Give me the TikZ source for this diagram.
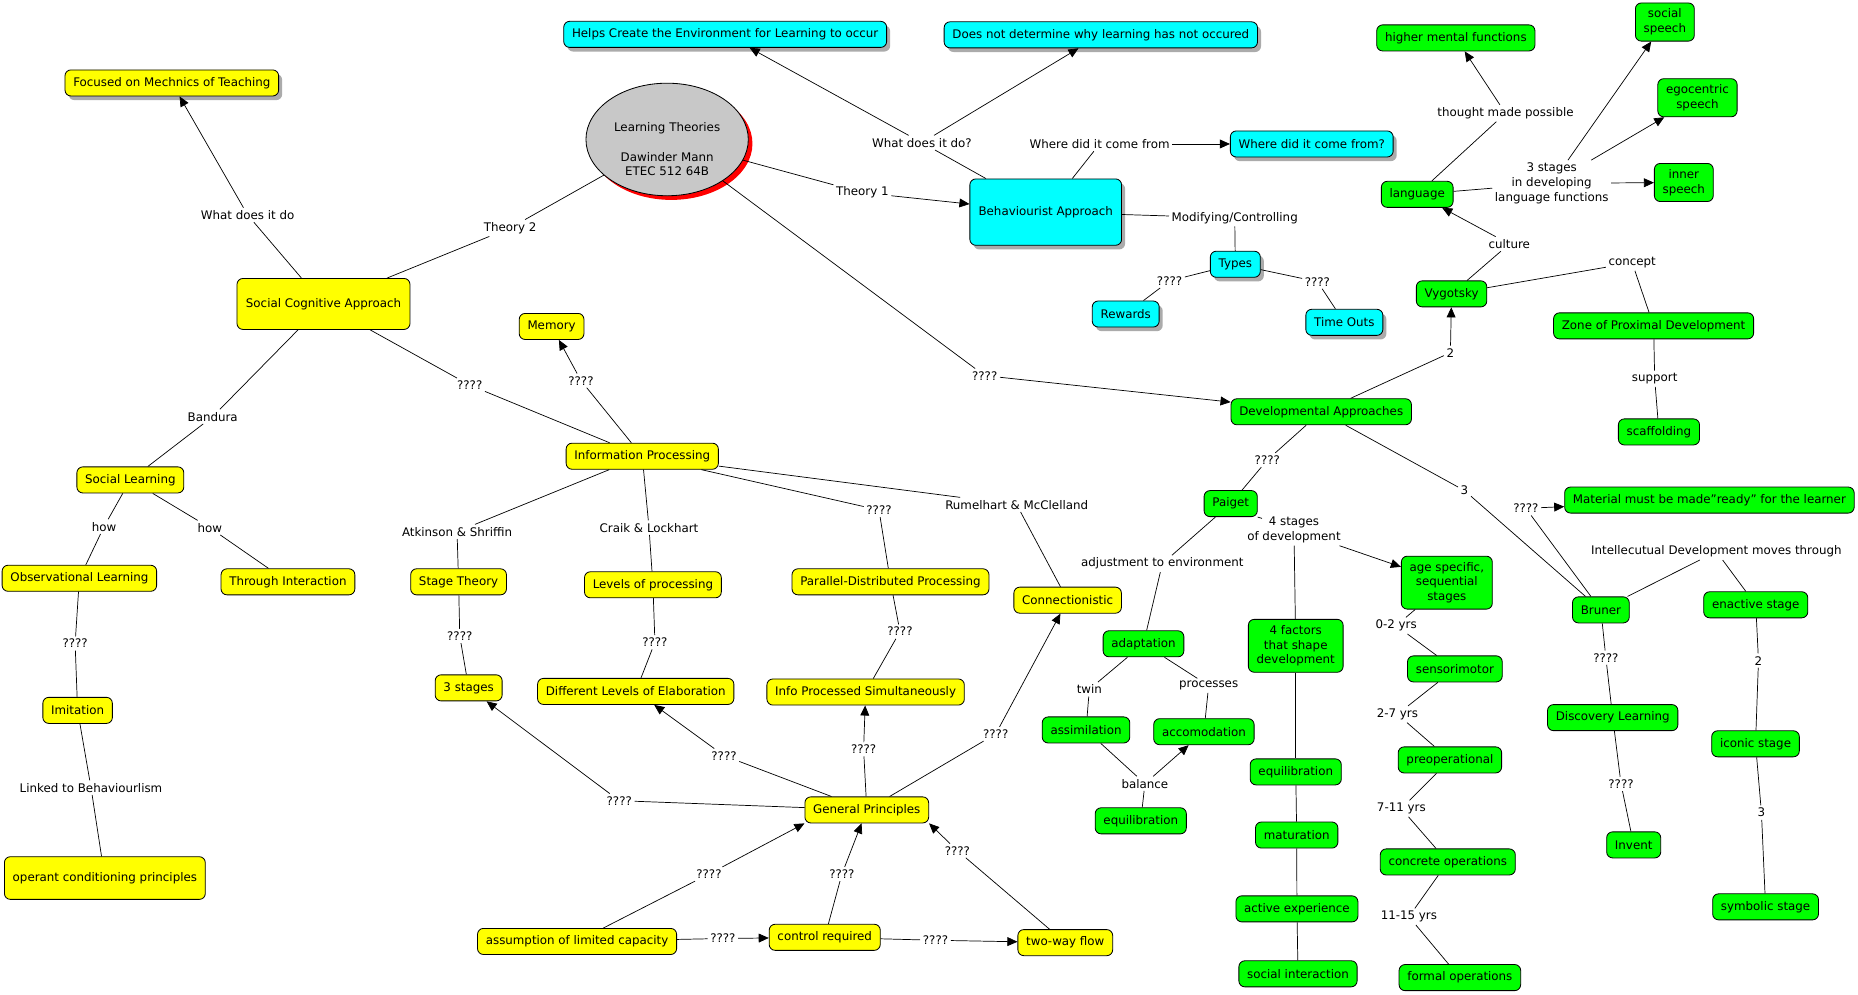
\documentclass[tikz,border=0pt]{standalone}
\usepackage{fontspec}
\setmainfont{DejaVu Sans}
\usetikzlibrary{shapes.geometric,arrows.meta,shadows}
\definecolor{cmyel}{RGB}{255,255,0}
\definecolor{cmcyan}{RGB}{0,255,255}
\definecolor{cmgreen}{RGB}{0,255,0}
\definecolor{cmgray}{RGB}{200,200,200}
\definecolor{cmred}{RGB}{255,0,0}
\definecolor{cmshadow}{RGB}{150,150,150}
\begin{document}
\begin{tikzpicture}[x=1pt,y=-1pt,
  base/.style={draw=black, line width=0.7pt, rounded corners=5pt, inner xsep=7pt, inner ysep=5pt,
    minimum height=22pt, align=center, font=\fontsize{10}{12.5}\selectfont},
  ynode/.style={base, fill=cmyel},
  cnode/.style={base, fill=cmcyan, drop shadow={shadow xshift=3pt, shadow yshift=-3.5pt, fill=cmshadow, opacity=0.8}},
  ysh/.style={drop shadow={shadow xshift=3pt, shadow yshift=-3.5pt, fill=cmshadow, opacity=0.8}},
  gnode/.style={base, fill=cmgreen},
  lbl/.style={inner sep=2pt, align=center, font=\fontsize{10}{12.5}\selectfont},
  arr/.style={-{Triangle[length=8.5pt,width=7.5pt]}},
  every path/.style={line width=0.6pt}]
\fill[white] (0,0) rectangle (1568,839);
\useasboundingbox (0,0) rectangle (1568,839);

% central ellipse
\node[ellipse, draw=black, line width=0.7pt, fill=cmgray, minimum width=137pt, minimum height=95pt, inner sep=0pt,
  drop shadow={shadow xshift=3.5pt, shadow yshift=-3.5pt, fill=cmred, opacity=1}] (lt) at (563,117.7) {};
\node[lbl] (ltt) at (563,126) {Learning Theories\\[12.5pt]Dawinder Mann\\ETEC 512 64B};

% yellow
\node[ynode, ysh] (foc) at (145,70) {Focused on Mechnics of Teaching};
\node[ynode, minimum width=146pt, minimum height=43pt] (sca) at (273,256.5) {Social Cognitive Approach};
\node[ynode] (mem) at (465.5,275.5) {Memory};
\node[ynode] (ip) at (542,385) {Information Processing};
\node[ynode] (sl) at (110,405) {Social Learning};
\node[ynode] (obs) at (67,488) {Observational Learning};
\node[ynode] (thr) at (243,491) {Through Interaction};
\node[ynode] (st) at (387,491) {Stage Theory};
\node[ynode] (lev) at (551,493.5) {Levels of processing};
\node[ynode] (pdp) at (751.5,491) {Parallel-Distributed Processing};
\node[ynode] (con) at (901,506.5) {Connectionistic};
\node[ynode] (thr3) at (395.5,580.5) {3 stages};
\node[ynode] (dle) at (536.5,583.5) {Different Levels of Elaboration};
\node[ynode] (ips) at (730.5,584) {Info Processed Simultaneously};
\node[ynode] (gp) at (731.5,683.5) {General Principles};
\node[ynode] (imi) at (65.5,599.5) {Imitation};
\node[ynode, minimum height=36pt] (opc) at (88.5,741) {operant conditioning principles};
\node[ynode] (alc) at (487,794.5) {assumption of limited capacity};
\node[ynode] (ctl) at (696,791) {control required};
\node[ynode] (twf) at (899,795.5) {two-way flow};

% cyan
\node[cnode] (hel) at (612,29) {Helps Create the Environment for Learning to occur};
\node[cnode] (dnd) at (929,29.4) {Does not determine why learning has not occured};
\node[cnode, minimum width=128pt, minimum height=56pt] (beh) at (882.5,179) {Behaviourist Approach};
\node[cnode] (wdc) at (1107,121.5) {Where did it come from?};
\node[cnode] (typ) at (1042.5,223) {Types};
\node[cnode] (rew) at (950,265) {Rewards};
\node[cnode] (tim) at (1134.5,272) {Time Outs};

% green
\node[gnode] (hmf) at (1228.6,32) {higher mental functions};
\node[gnode] (soc) at (1405,18.6) {social\\speech};
\node[gnode] (ego) at (1432.5,82.5) {egocentric\\speech};
\node[gnode] (inn) at (1421,154) {inner\\speech};
\node[gnode] (lan) at (1196,164) {language};
\node[gnode] (vyg) at (1225,248) {Vygotsky};
\node[gnode] (zpd) at (1395.5,275) {Zone of Proximal Development};
\node[gnode] (scf) at (1400,364.5) {scaffolding};
\node[gnode] (dev) at (1115,347.5) {Developmental Approaches};
\node[gnode] (pai) at (1038.6,425) {Paiget};
\node[gnode] (age) at (1221,491.7) {age specific,\\sequential\\stages};
\node[gnode] (bru) at (1351,514.7) {Bruner};
\node[gnode] (mat) at (1442.6,422) {Material must be made"ready" for the learner};
\node[gnode] (ena) at (1481.7,510.4) {enactive stage};
\node[gnode] (fac) at (1093.5,545) {4 factors\\that shape\\development};
\node[gnode] (ada) at (965,543.3) {adaptation};
\node[gnode] (asm) at (916.5,616) {assimilation};
\node[gnode] (acc) at (1016,617.5) {accomodation};
\node[gnode] (eqa) at (962.7,692.7) {equilibration};
\node[gnode] (eqb) at (1093.5,651.4) {equilibration};
\node[gnode] (matu) at (1094.3,704.7) {maturation};
\node[gnode] (act) at (1094.5,767) {active experience};
\node[gnode] (sin) at (1095.4,821.8) {social interaction};
\node[gnode] (sen) at (1227.8,564.5) {sensorimotor};
\node[gnode] (pre) at (1223.6,641.3) {preoperational};
\node[gnode] (cop) at (1221.8,727.4) {concrete operations};
\node[gnode] (fop) at (1232,825) {formal operations};
\node[gnode] (dis) at (1361,605.6) {Discovery Learning};
\node[gnode] (inv) at (1378.7,713) {Invent};
\node[gnode] (ico) at (1481.5,627.7) {iconic stage};
\node[gnode] (sym) at (1490,765.3) {symbolic stage};

% linking phrases
\node[lbl] (l1) at (209,181.4) {What does it do};
\node[lbl] (l2) at (430.5,192.4) {Theory 2};
\node[lbl] (l3) at (727.8,162.6) {Theory 1};
\node[lbl] (l4) at (831,317) {????};
\node[lbl] (l5) at (778,120.4) {What does it do?};
\node[lbl] (l6) at (928,121.5) {Where did it come from};
\node[lbl] (l7) at (1042,184) {Modifying/Controlling};
\node[lbl] (l8) at (987,237) {????};
\node[lbl] (l9) at (1111.8,237.7) {????};
\node[lbl] (l10) at (179.5,351.6) {Bandura};
\node[lbl] (l11) at (396.4,325) {????};
\node[lbl] (l12) at (87.8,444.4) {how};
\node[lbl] (l13) at (177,445.3) {how};
\node[lbl] (l14) at (63.4,543) {????};
\node[lbl] (l15) at (76.8,664.7) {Linked to Behaviourlism};
\node[lbl] (l16) at (490.3,321.2) {????};
\node[lbl] (l17) at (385.7,448.7) {Atkinson \& Shriffin};
\node[lbl] (l18) at (547.7,445.3) {Craik \& Lockhart};
\node[lbl] (l19) at (741.8,430.4) {????};
\node[lbl] (l20) at (858,425.9) {Rumelhart \& McClelland};
\node[lbl] (l21) at (388,536.7) {????};
\node[lbl] (l22) at (552.7,542) {????};
\node[lbl] (l23) at (759.5,533) {????};
\node[lbl] (l24) at (522.6,675.7) {????};
\node[lbl] (l25) at (611,637.7) {????};
\node[lbl] (l26) at (728.8,632.3) {????};
\node[lbl] (l27) at (840.3,619.4) {????};
\node[lbl] (l28) at (598.3,737.6) {????};
\node[lbl] (l29) at (710.5,737.6) {????};
\node[lbl] (l30) at (808,717.9) {????};
\node[lbl] (l31) at (610,792) {????};
\node[lbl] (l32) at (789.5,793.5) {????};
\node[lbl] (g1) at (1224,297.6) {2};
\node[lbl] (g2) at (1069.5,388.2) {????};
\node[lbl] (g3) at (1235.9,414) {3};
\node[lbl] (g4) at (1273.7,205.9) {culture};
\node[lbl] (g5) at (1377.4,221.7) {concept};
\node[lbl] (g6) at (1396.4,319.6) {support};
\node[lbl] (g7) at (1270.5,95.6) {thought made possible};
\node[lbl] (g8) at (1309.5,154.7) {3 stages\\in developing\\language functions};
\node[lbl] (g9) at (980.9,475.7) {adjustment to environment};
\node[lbl] (g10) at (1092,447.3) {4 stages\\of development};
\coordinate (g10a) at (1065,437.5);
\node[lbl] (g11) at (919.3,581.7) {twin};
\node[lbl] (g12) at (1020,578.6) {processes};
\node[lbl] (g13) at (966.2,661.3) {balance};
\node[lbl] (g14) at (1178.2,528) {0-2 yrs};
\node[lbl] (g15) at (1179.3,602.8) {2-7 yrs};
\node[lbl] (g16) at (1182.6,682.4) {7-11 yrs};
\node[lbl] (g17) at (1189,773.6) {11-15 yrs};
\node[lbl] (g18) at (1287.7,429) {????};
\node[lbl] (g19) at (1448.5,465.5) {Intellecutual Development moves through};
\node[lbl] (g20) at (1484,557.5) {2};
\node[lbl] (g21) at (1486.5,685.8) {3};
\node[lbl] (g22) at (1355.2,555) {????};
\node[lbl] (g23) at (1368,661.6) {????};

% connectors
\draw (sca) -- (l1); \draw[arr] (l1) -- (foc);
\draw (lt) -- (l2); \draw (l2) -- (sca);
\draw (lt) -- (l3); \draw[arr] (l3) -- (beh);
\draw (lt) -- (l4); \draw[arr] (l4) -- (dev);
\draw (beh) -- (l5); \draw[arr] (l5) -- (hel); \draw[arr] (l5) -- (dnd);
\draw (beh) -- (l6); \draw[arr] (l6) -- (wdc);
\draw (beh) -- (l7); \draw (l7) -- (typ);
\draw (typ) -- (l8); \draw (l8) -- (rew);
\draw (typ) -- (l9); \draw (l9) -- (tim);
\draw (sca) -- (l10); \draw (l10) -- (sl);
\draw (sca) -- (l11); \draw (l11) -- (ip);
\draw (sl) -- (l12); \draw (l12) -- (obs);
\draw (sl) -- (l13); \draw (l13) -- (thr);
\draw (obs) -- (l14); \draw (l14) -- (imi);
\draw (imi) -- (l15); \draw (l15) -- (opc);
\draw (ip) -- (l16); \draw[arr] (l16) -- (mem);
\draw (ip) -- (l17); \draw (l17) -- (st);
\draw (ip) -- (l18); \draw (l18) -- (lev);
\draw (ip) -- (l19); \draw (l19) -- (pdp);
\draw (ip) -- (l20); \draw (l20) -- (con);
\draw (st) -- (l21); \draw (l21) -- (thr3);
\draw (lev) -- (l22); \draw (l22) -- (dle);
\draw (pdp) -- (l23); \draw (l23) -- (ips);
\draw (gp) -- (l24); \draw[arr] (l24) -- (thr3);
\draw (gp) -- (l25); \draw[arr] (l25) -- (dle);
\draw (gp) -- (l26); \draw[arr] (l26) -- (ips);
\draw (gp) -- (l27); \draw[arr] (l27) -- (con);
\draw (alc) -- (l28); \draw[arr] (l28) -- (gp.south west);
\draw (ctl) -- (l29); \draw[arr] (l29) -- (gp);
\draw (twf) -- (l30); \draw[arr] (l30) -- (gp.south east);
\draw (alc) -- (l31); \draw[arr] (l31) -- (ctl);
\draw (ctl) -- (l32); \draw[arr] (l32) -- (twf);

\draw (dev) -- (g1); \draw[arr] (g1) -- (vyg);
\draw (dev) -- (g2); \draw (g2) -- (pai);
\draw (dev) -- (g3); \draw (g3) -- (bru);
\draw (vyg) -- (g4); \draw[arr] (g4) -- (lan);
\draw (vyg) -- (g5); \draw (g5) -- (zpd);
\draw (zpd) -- (g6); \draw (g6) -- (scf);
\draw (lan) -- (g7); \draw[arr] (g7) -- (hmf);
\draw (lan) -- (g8); \draw[arr] (g8) -- (soc); \draw[arr] (g8) -- (ego); \draw[arr] (g8) -- (inn);
\draw (pai) -- (g9); \draw (g9) -- (ada);
\draw (pai.south east) -- (g10a); \draw[arr] (g10) -- (age); \draw (g10) -- (fac);
\draw (ada) -- (g11); \draw (g11) -- (asm);
\draw (ada) -- (g12); \draw (g12) -- (acc);
\draw (asm) -- (g13); \draw (eqa) -- (g13); \draw[arr] (g13) -- (acc);
\draw (fac) -- (eqb); \draw (eqb) -- (matu); \draw (matu) -- (act); \draw (act) -- (sin);
\draw (age) -- (g14); \draw (g14) -- (sen);
\draw (sen) -- (g15); \draw (g15) -- (pre);
\draw (pre) -- (g16); \draw (g16) -- (cop);
\draw (cop) -- (g17); \draw (g17) -- (fop);
\draw (bru) -- (g18); \draw[arr] (g18) -- (mat);
\draw (bru) -- (g19); \draw (g19) -- (ena);
\draw (ena) -- (g20); \draw (g20) -- (ico);
\draw (ico) -- (g21); \draw (g21) -- (sym);
\draw (bru) -- (g22); \draw (g22) -- (dis);
\draw (dis) -- (g23); \draw (g23) -- (inv);
\end{tikzpicture}
\end{document}
